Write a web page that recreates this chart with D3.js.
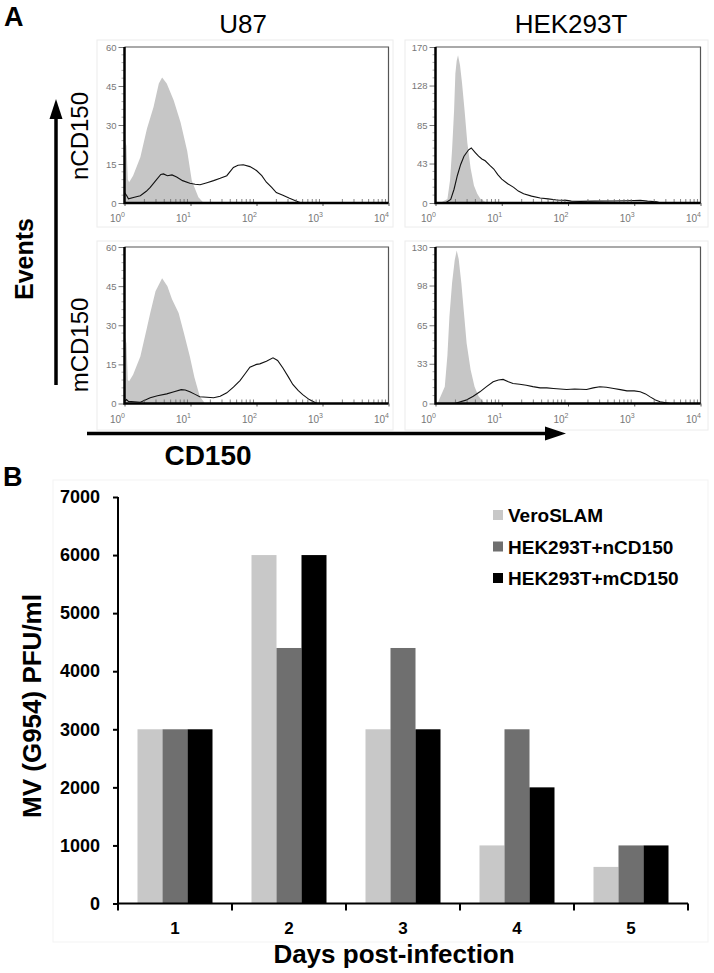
<!DOCTYPE html>
<html><head><meta charset="utf-8">
<script src="https://cdn.jsdelivr.net/npm/d3@7"></script>
<style>
body{margin:0;background:#fff;}
svg{display:block;font-family:"Liberation Sans",Arial,Helvetica,sans-serif;}
</style>
</head><body>
<svg id="c" width="714" height="973"></svg>
<script>
// ---------------- DATA ----------------
// Panel A: flow cytometry histograms, x = log10(CD150 fluorescence), y = events
const cellLines = ["U87", "HEK293T"];
const constructs = ["nCD150", "mCD150"];
const decades = [0, 1, 2, 3, 4];
const u87YTicks = [0, 15, 30, 45, 60];
const hekNYTicks = [0, 43, 85, 128, 170];
const hekMYTicks = [0, 33, 65, 98, 130];

const u87N_iso = [[0,0],[0.005,24],[0.03,22],[0.05,9],[0.07,8],[0.13,10.5],[0.24,17.6],[0.34,28.6],[0.44,36.9],[0.52,46],[0.57,48.3],[0.64,46],[0.745,39.5],[0.85,31],[0.95,20],[1.02,8.6],[1.12,2.2],[1.2,0]];
const u87N_test = [[0,4],[0.03,3],[0.06,1.6],[0.15,2.2],[0.24,2.8],[0.33,4.5],[0.39,6],[0.47,8.5],[0.55,11],[0.59,11.2],[0.65,10.5],[0.72,10.8],[0.79,10],[0.88,8.6],[0.99,7.6],[1.07,7.2],[1.145,7],[1.25,7.8],[1.35,8.6],[1.45,9.5],[1.55,10.5],[1.65,13.7],[1.72,14.5],[1.8,14.7],[1.9,14],[2.0,12.5],[2.08,10.5],[2.15,8],[2.23,6],[2.3,4],[2.4,3],[2.5,1.8],[2.6,0.8],[2.68,0],[4,0]];
const u87M_iso = [[0,0],[0.005,25.7],[0.03,23],[0.05,9],[0.07,8.5],[0.13,11],[0.24,18],[0.34,29],[0.39,34.7],[0.47,43],[0.57,48],[0.65,45],[0.72,40],[0.82,34.7],[0.9,27],[0.99,18],[1.06,10],[1.14,2.8],[1.22,0]];
const u87M_test = [[0,0.8],[0.03,1.5],[0.06,0.8],[0.24,0.5],[0.39,2.2],[0.5,3],[0.64,3.7],[0.75,4.5],[0.86,5.3],[0.92,5.2],[0.99,4.5],[1.07,3.5],[1.14,2.6],[1.25,2.4],[1.35,2.2],[1.45,2.8],[1.55,4.1],[1.65,6.3],[1.75,8.8],[1.83,11.5],[1.9,13.9],[2.0,15],[2.05,15.2],[2.15,16.2],[2.25,17.5],[2.32,16.5],[2.4,13.6],[2.48,10.3],[2.55,7.3],[2.63,5],[2.7,3.4],[2.8,1.5],[2.88,0.5],[2.92,0],[4,0]];
const hekN_iso = [[0.07,0],[0.18,4.3],[0.22,25],[0.25,58],[0.28,100],[0.3,141],[0.32,155],[0.34,161],[0.37,150],[0.4,131],[0.44,100],[0.48,66],[0.53,38],[0.58,19],[0.63,10],[0.68,4.3],[0.78,0]];
const hekN_test = [[0,0],[0.15,0],[0.23,4],[0.28,15],[0.33,30],[0.38,42],[0.43,51],[0.5,58],[0.54,60],[0.6,55],[0.65,51],[0.7,48],[0.75,46],[0.82,41],[0.88,37],[0.94,31],[1.0,26],[1.09,21],[1.18,17],[1.25,13],[1.33,10],[1.45,7.5],[1.58,5.4],[1.7,4.5],[1.83,3.2],[1.98,2.9],[2.05,2],[2.18,1.8],[2.4,2],[2.68,2.2],[2.9,2.5],[3.09,2.9],[3.2,2],[3.34,1.4],[3.4,0],[4,0]];
const hekM_iso = [[0.03,0],[0.14,14],[0.18,40],[0.21,72],[0.25,100],[0.29,119],[0.32,127],[0.35,120],[0.39,100],[0.43,75],[0.47,50],[0.53,28],[0.59,14],[0.65,6],[0.72,1.4],[0.77,0]];
const hekM_test = [[0,0],[0.29,0],[0.46,2.8],[0.57,6],[0.67,9.7],[0.77,14],[0.87,18],[0.95,19.5],[1.02,20],[1.1,18],[1.17,16.6],[1.27,16],[1.37,15.2],[1.47,14],[1.58,13],[1.68,13],[1.78,12.5],[1.88,12],[1.98,11.6],[2.1,12],[2.28,11.6],[2.38,13],[2.48,13.9],[2.58,13.5],[2.69,12.5],[2.79,11.5],[2.89,10.5],[3.0,10.5],[3.09,9.7],[3.17,8],[3.24,5.5],[3.32,3],[3.39,1.4],[3.55,0],[4,0]];

// Panel B: MV (G954) titres
const days = ["1", "2", "3", "4", "5"];
const seriesNames = ["VeroSLAM", "HEK293T+nCD150", "HEK293T+mCD150"];
const veroSLAM = [3000, 6000, 3000, 1000, 630];
const hek293tN = [3000, 4400, 4400, 3000, 1000];
const hek293tM = [3000, 6000, 3000, 2000, 1000];
const yTicksB = [0, 1000, 2000, 3000, 4000, 5000, 6000, 7000];

// ---------------- DRAW ----------------
const svg = d3.select("#c");
const isoFill = "#c6c6c6";
const barColors = ["#c8c8c8", "#6f6f6f", "#000000"];

const colX = [[124.5, 388.5], [435.5, 700.5]];
const rowY = [[47, 203], [247, 403.5]];
const boxX = [[97, 393], [405, 708]];
const boxY = [[40, 227], [241, 430]];

const panels = [
  {col:0, row:0, iso:u87N_iso, test:u87N_test, ymax:60, yt:u87YTicks},
  {col:0, row:1, iso:u87M_iso, test:u87M_test, ymax:60, yt:u87YTicks},
  {col:1, row:0, iso:hekN_iso, test:hekN_test, ymax:170, yt:hekNYTicks},
  {col:1, row:1, iso:hekM_iso, test:hekM_test, ymax:130, yt:hekMYTicks}
];

panels.forEach(p => {
  const [xa, xb] = colX[p.col];
  const [ya, yb] = rowY[p.row];
  const x = d3.scaleLinear().domain([0, 4]).range([xa, xb]);
  const y = d3.scaleLinear().domain([0, p.ymax]).range([yb, ya]);
  const g = svg.append("g");

  // faint surrounding box
  g.append("rect").attr("x", boxX[p.col][0]).attr("y", boxY[p.row][0])
    .attr("width", boxX[p.col][1] - boxX[p.col][0]).attr("height", boxY[p.row][1] - boxY[p.row][0])
    .attr("fill", "none").attr("stroke", "#ececec").attr("stroke-width", 1);

  // isotype filled histogram
  g.append("path").datum(p.iso)
    .attr("d", d3.area().x(d => x(d[0])).y0(y(0)).y1(d => y(d[1])))
    .attr("fill", isoFill);
  // CD150 histogram line
  g.append("path").datum(p.test)
    .attr("d", d3.line().x(d => x(d[0])).y(d => y(d[1])))
    .attr("fill", "none").attr("stroke", "#111").attr("stroke-width", 1.1);

  // frame top / right
  g.append("path").attr("d", `M${xa},${ya}H${xb}V${yb}`)
    .attr("fill", "none").attr("stroke", "#555").attr("stroke-width", 1.2);

  // y axis
  const ya_ = g.append("g").attr("transform", `translate(${xa},0)`)
    .call(d3.axisLeft(y).tickValues(p.yt).tickSize(6).tickPadding(2).tickSizeOuter(0));
  ya_.select(".domain").remove();
  ya_.selectAll(".tick line").attr("stroke", "#777");
  ya_.selectAll(".tick text").attr("fill", "#777").attr("font-size", 9.5);
  // minor y ticks
  const minorY = [];
  for (let i = 0; i < p.yt.length - 1; i++) {
    for (let k = 1; k < 5; k++) minorY.push(p.yt[i] + (p.yt[i + 1] - p.yt[i]) * k / 5);
  }
  g.selectAll(null).data(minorY).enter().append("line")
    .attr("x1", xa - 3).attr("x2", xa).attr("y1", d => y(d)).attr("y2", d => y(d))
    .attr("stroke", "#999").attr("stroke-width", 0.8);

  // x axis
  const xa_ = g.append("g").attr("transform", `translate(0,${yb})`)
    .call(d3.axisBottom(x).tickValues(decades).tickSize(3).tickSizeOuter(0).tickFormat(() => ""));
  xa_.select(".domain").remove();
  xa_.selectAll(".tick line").attr("stroke", "#555");
  xa_.selectAll(".tick text").each(function(d) {
    const t = d3.select(this).attr("y", 19).attr("dy", null).attr("x", 0)
      .attr("text-anchor", "end").attr("fill", "#777").attr("font-size", 10);
    t.append("tspan").text("10");
    t.append("tspan").attr("dy", -5).attr("font-size", 7).text(d);
  });
  // minor x ticks (log 2..9)
  const minorX = [];
  decades.slice(0, 4).forEach(dd => { for (let k = 2; k <= 9; k++) minorX.push(dd + Math.log10(k)); });
  g.selectAll(null).data(minorX).enter().append("line")
    .attr("x1", d => x(d)).attr("x2", d => x(d)).attr("y1", yb - 4).attr("y2", yb)
    .attr("stroke", "#666").attr("stroke-width", 0.8);

  // thick left / bottom axis lines
  g.append("path").attr("d", `M${xa},${ya}V${yb}H${xb}`)
    .attr("fill", "none").attr("stroke", "#000").attr("stroke-width", 2.5);
});

// Panel A labels
svg.append("text").attr("x", 4).attr("y", 26).attr("font-size", 27).attr("font-weight", "bold").text("A");
svg.append("text").attr("x", 243).attr("y", 33).attr("font-size", 26).attr("text-anchor", "middle").text(cellLines[0]);
svg.append("text").attr("x", 571).attr("y", 33).attr("font-size", 26).attr("text-anchor", "middle").text(cellLines[1]);
svg.append("text").attr("transform", "translate(88,136) rotate(-90)").attr("font-size", 24).attr("text-anchor", "middle").text(constructs[0]);
svg.append("text").attr("transform", "translate(88,345) rotate(-90)").attr("font-size", 24).attr("text-anchor", "middle").text(constructs[1]);
svg.append("text").attr("transform", "translate(33,259) rotate(-90)").attr("font-size", 25).attr("font-weight", "bold").attr("text-anchor", "middle").text("Events");
svg.append("text").attr("x", 208).attr("y", 465).attr("font-size", 28).attr("font-weight", "bold").attr("text-anchor", "middle").text("CD150");

// arrows
svg.append("line").attr("x1", 56).attr("x2", 56).attr("y1", 385).attr("y2", 115).attr("stroke", "#000").attr("stroke-width", 3.5);
svg.append("path").attr("d", "M56,99L49.5,119L62.5,119Z").attr("fill", "#000");
svg.append("line").attr("x1", 87).attr("x2", 548).attr("y1", 433.5).attr("y2", 433.5).attr("stroke", "#000").attr("stroke-width", 3.5);
svg.append("path").attr("d", "M566,433.5L545,426.5L545,440.5Z").attr("fill", "#000");

// ---------------- Panel B ----------------
svg.append("text").attr("x", 3).attr("y", 486).attr("font-size", 27).attr("font-weight", "bold").text("B");
svg.append("rect").attr("x", 53).attr("y", 480).attr("width", 655).attr("height", 462)
  .attr("fill", "none").attr("stroke", "#f3f3f3");

const yB = d3.scaleLinear().domain([0, 7000]).range([903.5, 497]);
const x0 = d3.scaleBand().domain(days).range([118, 688]).padding(0);
const x1 = d3.scaleBand().domain(seriesNames).range([0, x0.bandwidth()]).paddingInner(0).paddingOuter(0.78);
const seriesData = [veroSLAM, hek293tN, hek293tM];

const groups = svg.append("g").selectAll("g").data(days).enter().append("g")
  .attr("transform", d => `translate(${x0(d)},0)`);
groups.selectAll("rect").data((d, i) => seriesNames.map((s, j) => ({s, j, v: seriesData[j][i]})))
  .enter().append("rect")
  .attr("x", d => x1(d.s)).attr("width", x1.bandwidth())
  .attr("y", d => yB(d.v)).attr("height", d => yB(0) - yB(d.v))
  .attr("fill", d => barColors[d.j]);

// y axis
const yAx = svg.append("g").attr("transform", "translate(118,0)")
  .call(d3.axisLeft(yB).tickValues(yTicksB).tickSize(5).tickPadding(13).tickSizeOuter(0).tickFormat(d3.format("d")));
yAx.select(".domain").attr("stroke-width", 2).attr("d", `M0,${yB(7000)}V${yB(0) + 7}`);
yAx.selectAll(".tick line").attr("stroke-width", 2);
yAx.selectAll(".tick text").attr("font-size", 18).attr("font-weight", "bold").attr("fill", "#000");

// x axis
const xAx = svg.append("g").attr("transform", `translate(0,${yB(0)})`)
  .call(d3.axisBottom(x0).tickSize(0).tickSizeOuter(0));
xAx.select(".domain").attr("stroke-width", 2).attr("d", `M${x0.range()[0]},0H${x0.range()[1]}`);
xAx.selectAll(".tick text").attr("y", 30).attr("dy", null).attr("font-size", 17).attr("font-weight", "bold").attr("fill", "#000");
xAx.selectAll(null).data(days).enter().append("line")
  .attr("x1", d => x0(d) + x0.bandwidth()).attr("x2", d => x0(d) + x0.bandwidth())
  .attr("y1", 0).attr("y2", 7).attr("stroke", "#000").attr("stroke-width", 2);

// axis titles
svg.append("text").attr("x", 394).attr("y", 963).attr("font-size", 26).attr("font-weight", "bold")
  .attr("text-anchor", "middle").text("Days post-infection");
svg.append("text").attr("transform", "translate(41,706) rotate(-90)").attr("font-size", 26).attr("font-weight", "bold")
  .attr("text-anchor", "middle").text("MV (G954) PFU/ml");

// legend
const leg = svg.append("g").selectAll("g").data(seriesNames).enter().append("g")
  .attr("transform", (d, i) => `translate(493,${515 + i * 31.5})`);
leg.append("rect").attr("x", 0).attr("y", -5).attr("width", 10).attr("height", 10).attr("fill", (d, i) => barColors[i]);
leg.append("text").attr("x", 15).attr("y", 7).attr("font-size", 19).attr("font-weight", "bold").text(d => d);
</script>
</body></html>
